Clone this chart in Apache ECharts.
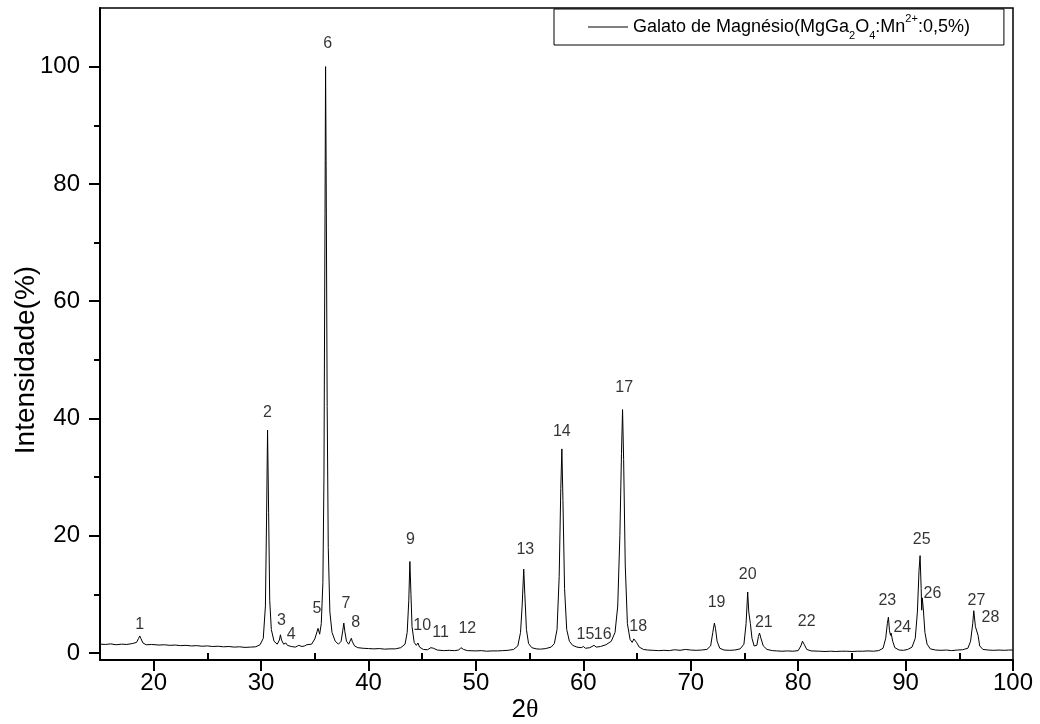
<!DOCTYPE html>
<html>
<head>
<meta charset="utf-8">
<script src="https://cdn.jsdelivr.net/npm/echarts@6/dist/echarts.min.js"></script>
<style>
  html, body { margin: 0; padding: 0; background: #fff; }
  #chart { width: 1040px; height: 724px; }
</style>
</head>
<body>
<div id="chart"></div>
<script>
// difratograma (2θ, intensidade %)
const twoTheta = [
	15, 15.5, 16, 16.5, 17, 17.5, 18, 18.4, 18.6, 18.7, 18.8, 19.0, 19.3, 19.8, 20.5, 21, 21.5, 22, 22.5, 23,
	23.5, 24, 24.5, 25, 25.5, 26, 26.5, 27, 27.5, 28, 28.5, 29, 29.5, 29.9, 30.2, 30.4, 30.5, 30.6, 30.7, 30.8,
	30.95, 31.2, 31.5, 31.7, 31.8, 31.9, 32.1, 32.3, 32.45, 32.8, 33.2, 33.5, 33.65, 33.8, 34.05, 34.25, 34.4, 34.7, 35.0, 35.2,
	35.3, 35.45, 35.6, 35.75, 35.85, 35.95, 36.0, 36.05, 36.15, 36.25, 36.4, 36.6, 36.9, 37.2, 37.45, 37.6, 37.7, 37.8, 37.95, 38.15,
	38.3, 38.4, 38.5, 38.7, 39, 39.5, 40, 40.5, 41, 41.5, 42, 42.5, 43, 43.4, 43.6, 43.75, 43.85, 43.95, 44.05, 44.25,
	44.45, 44.6, 44.75, 45.1, 45.5, 45.8, 45.9, 46.05, 46.4, 47, 47.5, 48, 48.4, 48.6, 48.7, 48.85, 49.2, 50, 50.5, 51,
	51.5, 52, 52.5, 53, 53.5, 53.9, 54.15, 54.3, 54.45, 54.55, 54.7, 54.9, 55.2, 55.6, 56, 56.5, 57, 57.3, 57.55, 57.75,
	57.9, 58.0, 58.1, 58.25, 58.45, 58.7, 59.0, 59.4, 59.8, 60.0, 60.2, 60.6, 61.0, 61.2, 61.6, 62.1, 62.6, 62.95, 63.2, 63.4,
	63.55, 63.65, 63.75, 63.9, 64.1, 64.35, 64.55, 64.7, 64.8, 64.95, 65.2, 65.6, 66, 66.5, 67, 67.5, 68, 68.5, 69, 69.5,
	70, 70.5, 71, 71.5, 71.85, 72.05, 72.2, 72.3, 72.45, 72.7, 73.1, 73.6, 74.1, 74.6, 74.95, 75.15, 75.3, 75.4, 75.55, 75.7,
	75.9, 76.15, 76.3, 76.4, 76.55, 76.75, 77.1, 77.6, 78, 78.5, 79, 79.5, 80, 80.25, 80.4, 80.55, 80.8, 81.2, 82, 82.5,
	83, 83.5, 84, 84.5, 85, 85.5, 86, 86.5, 87, 87.5, 87.9, 88.15, 88.3, 88.4, 88.5, 88.6, 88.65, 88.8, 89.0, 89.4,
	89.8, 90.2, 90.6, 90.9, 91.1, 91.25, 91.35, 91.45, 91.5, 91.55, 91.65, 91.8, 92.0, 92.3, 92.8, 93.3, 93.8, 94.3, 94.8, 95.3,
	95.8, 96.05, 96.25, 96.35, 96.5, 96.65, 96.75, 96.9, 97.2, 97.7, 98.2, 98.7, 99.2, 99.6, 100
];
const intensity = [
	1.5, 1.45, 1.55, 1.4, 1.5, 1.45, 1.6, 1.8, 2.5, 2.9, 2.5, 1.7, 1.4, 1.45, 1.35, 1.4, 1.3, 1.35, 1.25, 1.3,
	1.2, 1.25, 1.15, 1.2, 1.1, 1.15, 1.05, 1.1, 1.0, 1.05, 0.95, 1.0, 1.05, 1.4, 2.5, 8, 22, 38, 24, 9,
	4, 2, 1.5, 2.2, 3.1, 2.2, 1.5, 1.7, 1.3, 1.1, 1.0, 1.3, 1.4, 1.1, 1.2, 1.4, 1.1, 1.5, 2.4, 3.6,
	4.2, 3.2, 5, 12, 30, 75, 100, 84, 42, 18, 7, 3.5, 2, 1.5, 2, 3.8, 5.1, 3.6, 2, 1.5,
	1.8, 2.5, 1.9, 1.2, 0.9, 0.8, 0.75, 0.7, 0.75, 0.65, 0.7, 0.7, 0.9, 1.5, 3.5, 9, 15.6, 10, 4.5, 1.8,
	1.3, 1.7, 1.0, 0.6, 0.55, 0.9, 1.1, 0.8, 0.5, 0.4, 0.45, 0.4, 0.5, 0.9, 1.0, 0.6, 0.4, 0.35, 0.4, 0.3,
	0.35, 0.35, 0.4, 0.45, 0.6, 1.2, 3.5, 8, 14.3, 10, 4, 1.6, 0.9, 0.7, 0.65, 0.75, 1.0, 1.6, 4, 13,
	28, 34.8, 26, 11, 4, 2, 1.3, 1.0, 0.9, 1.1, 0.8, 0.9, 1.3, 1.0, 1.1, 1.4, 2, 3.5, 8, 20,
	34, 41.5, 33, 15, 5, 2.3, 1.8, 2.4, 2.7, 1.8, 1.0, 0.6, 0.5, 0.45, 0.4, 0.45, 0.4, 0.55, 0.45, 0.6,
	0.5, 0.45, 0.5, 0.6, 1.2, 3.5, 5.1, 4.2, 2, 0.8, 0.5, 0.45, 0.5, 0.7, 1.5, 5, 10.4, 7, 5, 2.5,
	1.2, 1.3, 2.8, 3.4, 2.4, 1.2, 0.6, 0.4, 0.35, 0.3, 0.35, 0.3, 0.4, 1.2, 2.0, 1.5, 0.6, 0.35, 0.3, 0.25,
	0.3, 0.25, 0.3, 0.3, 0.25, 0.3, 0.3, 0.35, 0.3, 0.4, 0.8, 2.5, 5, 6.1, 3.8, 3.0, 3.4, 2, 0.9, 0.5,
	0.45, 0.6, 1.0, 2.5, 7, 14, 16.6, 11, 7.3, 9.4, 7.5, 3.5, 1.5, 0.7, 0.5, 0.45, 0.5, 0.4, 0.5, 0.55,
	0.8, 2, 5, 7.2, 4.5, 4.3, 3, 1.2, 0.6, 0.5, 0.45, 0.5, 0.45, 0.5, 0.5
];

// rótulos dos picos e onde ficam
const peakNames = ['1','2','3','4','5','6','7','8','9','10','11','12','13','14',
	'15','16','17','18','19','20','21','22','23','24','25','26','27','28'];
const peakLabelX = [18.7, 30.6, 31.9, 32.8, 35.2, 36.2, 37.9, 38.8, 43.9, 45.0, 46.7, 49.2, 54.6, 58.0,
	60.2, 61.8, 63.8, 65.1, 72.4, 75.3, 76.8, 80.8, 88.3, 89.7, 91.5, 92.5, 96.6, 97.9];
const peakLabelY = [4.9, 41, 5.6, 3.2, 7.5, 104, 8.4, 5.1, 19.3, 4.6, 3.4, 4.1, 17.6, 37.8,
	3.1, 3.1, 45.3, 4.5, 8.6, 13.4, 5.1, 5.3, 8.9, 4.3, 19.3, 10.2, 9.0, 6.0];

const xMajor = [20, 30, 40, 50, 60, 70, 80, 90, 100];
const xMinor = [25, 35, 45, 55, 65, 75, 85, 95];
const yMajor = [0, 20, 40, 60, 80, 100];
const yMinor = [10, 30, 50, 70, 90];

const seriesName = 'Galato de Magnésio';

const lineData = twoTheta.map((t, i) => [t, intensity[i]]);
const labelData = peakNames.map((n, i) => ({ name: n, value: [peakLabelX[i], peakLabelY[i]] }));

const chart = echarts.init(document.getElementById('chart'), null, { renderer: 'canvas' });

const fontFamily = 'Liberation Sans, Arial, sans-serif';

const option = {
	animation: false,
	backgroundColor: '#fff',
	textStyle: { fontFamily: fontFamily, color: '#000' },
	grid: {
		left: 100,
		right: 27,
		top: 8,
		bottom: 64,
		outerBoundsMode: 'none',
		containLabel: false,
		show: true,
		borderColor: '#000',
		borderWidth: 1.5,
	},
	legend: {
		left: 554,
		top: 9,
		padding: [4, 34, 4, 34],
		borderColor: '#000',
		borderWidth: 1,
		icon: 'rect',
		itemWidth: 40,
		itemHeight: 1,
		data: [seriesName],
		formatter: () =>
			'{a|Galato de Magnésio(MgGa}{sub|2}{a|O}{sub|4}{a|:Mn}{sup|2+}{a|:0,5%)}',
		textStyle: {
			fontFamily: fontFamily,
			color: '#000',
			rich: {
				a: { fontSize: 18, fontFamily: fontFamily, color: '#000', lineHeight: 22 },
				sub: { fontSize: 11, fontFamily: fontFamily, color: '#000', verticalAlign: 'bottom', lineHeight: 11, padding: [0, 0, -3, 0] },
				sup: { fontSize: 11, fontFamily: fontFamily, color: '#000', verticalAlign: 'top', lineHeight: 11, padding: [-3, 0, 0, 0] },
			},
		},
	},
	graphic: [
		{
			type: 'text',
			x: 26,
			y: 360,
			rotation: Math.PI / 2,
			style: {
				text: 'Intensidade(%)',
				font: '28px ' + fontFamily,
				fill: '#000',
				align: 'center',
				verticalAlign: 'middle',
			},
		},
		{
			type: 'text',
			x: 525,
			y: 710,
			style: {
				text: '{a|2}{b|θ}',
				fill: '#000',
				align: 'center',
				verticalAlign: 'middle',
				rich: {
					a: { fontSize: 26, fontFamily: fontFamily, color: '#000' },
					b: { fontSize: 26, fontFamily: 'Liberation Serif, serif', color: '#000' },
				},
			},
		},
	],
	xAxis: [
		{
			type: 'value',
			min: 15,
			max: 100,
			axisLine: { show: true, onZero: false, lineStyle: { color: '#000', width: 2 } },
			axisTick: { show: true, inside: false, length: 11, customValues: xMajor, lineStyle: { color: '#000', width: 2 } },
			axisLabel: { show: true, customValues: xMajor, margin: 11, fontSize: 24, color: '#000', fontFamily: fontFamily },
			splitLine: { show: false },
		},
		{
			type: 'value',
			min: 15,
			max: 100,
			position: 'bottom',
			axisLine: { show: false },
			axisTick: { show: true, inside: false, length: 6, customValues: xMinor, lineStyle: { color: '#000', width: 2 } },
			axisLabel: { show: false },
			splitLine: { show: false },
		},
	],
	yAxis: [
		{
			type: 'value',
			min: -1.2,
			max: 110,
			axisLine: { show: true, onZero: false, lineStyle: { color: '#000', width: 2 } },
			axisTick: { show: true, inside: false, length: 11, customValues: yMajor, lineStyle: { color: '#000', width: 2 } },
			axisLabel: { show: true, customValues: yMajor, margin: 20, fontSize: 24, color: '#000', fontFamily: fontFamily },
			splitLine: { show: false },
		},
		{
			type: 'value',
			min: -1.2,
			max: 110,
			position: 'left',
			axisLine: { show: false },
			axisTick: { show: true, inside: false, length: 6, customValues: yMinor, lineStyle: { color: '#000', width: 2 } },
			axisLabel: { show: false },
			splitLine: { show: false },
		},
	],
	series: [
		{
			name: seriesName,
			type: 'line',
			data: lineData,
			symbol: 'none',
			smooth: false,
			lineStyle: { color: '#000', width: 1 },
			itemStyle: { color: '#000' },
			z: 3,
		},
		{
			name: 'labels',
			type: 'scatter',
			data: labelData,
			symbolSize: 0,
			silent: true,
			label: {
				show: true,
				position: 'inside',
				formatter: (p) => p.name,
				fontSize: 16,
				color: '#000',
				fontFamily: fontFamily,
			},
			z: 4,
		},
	],
};

chart.setOption(option);
</script>
</body>
</html>
